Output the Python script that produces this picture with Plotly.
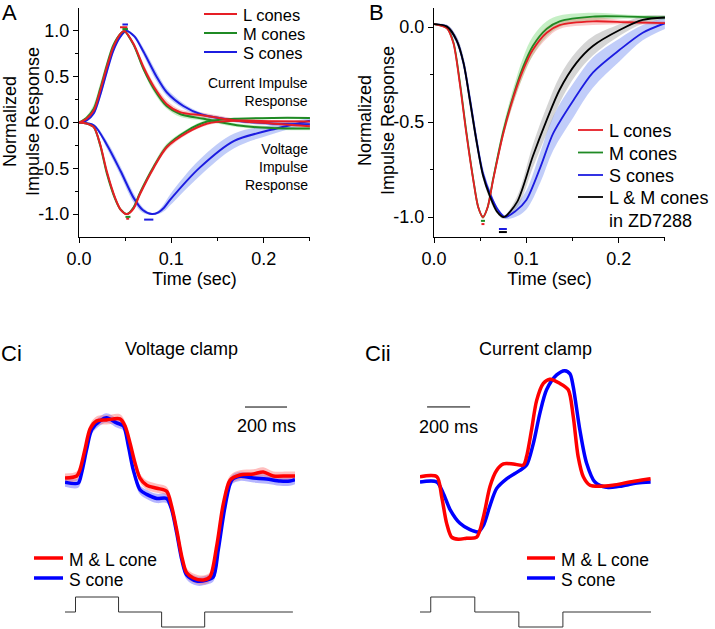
import plotly.graph_objects as go

W, H = 715, 629

# ---------------- Panel A: current / voltage impulse responses ----------------
a_cur_t = [0, 0.008, 0.016, 0.023, 0.030, 0.037, 0.045, 0.049, 0.059, 0.070, 0.081, 0.095, 0.110, 0.135, 0.171, 0.208, 0.250]
a_cur_L = [0, 0.04, 0.13, 0.35, 0.60, 0.82, 0.97, 1.0, 0.86, 0.60, 0.39, 0.20, 0.11, 0.077, 0.02, -0.01, -0.04]
a_cur_M = [0, 0.05, 0.15, 0.37, 0.62, 0.84, 0.97, 1.0, 0.85, 0.58, 0.37, 0.18, 0.09, 0.04, -0.03, -0.06, -0.065]
a_cur_L_sem = [0, 0.01, 0.02, 0.03, 0.03, 0.02, 0.01, 0.01, 0.02, 0.04, 0.04, 0.04, 0.03, 0.03, 0.02, 0.02, 0.02]
a_cur_M_sem = [0, 0.02, 0.05, 0.06, 0.05, 0.03, 0.01, 0.01, 0.02, 0.03, 0.04, 0.03, 0.03, 0.02, 0.02, 0.02, 0.02]

a_cur_S_t = [0, 0.008, 0.016, 0.023, 0.030, 0.037, 0.045, 0.051, 0.060, 0.070, 0.084, 0.095, 0.113, 0.132, 0.171, 0.208, 0.250]
a_cur_S = [0, 0.02, 0.10, 0.30, 0.55, 0.78, 0.94, 1.0, 0.94, 0.77, 0.50, 0.33, 0.18, 0.09, 0.02, -0.01, -0.02]
a_cur_S_sem = [0, 0.01, 0.02, 0.03, 0.03, 0.02, 0.01, 0.01, 0.02, 0.04, 0.05, 0.04, 0.03, 0.02, 0.02, 0.02, 0.02]

a_vol_t = [0, 0.008, 0.016, 0.023, 0.030, 0.039, 0.045, 0.052, 0.059, 0.066, 0.081, 0.095, 0.117, 0.139, 0.168, 0.210, 0.250]
a_vol_L = [0, -0.01, -0.05, -0.24, -0.53, -0.82, -0.95, -1.0, -0.94, -0.78, -0.49, -0.27, -0.11, -0.01, 0.02, 0.015, 0.01]
a_vol_M = [0, -0.01, -0.05, -0.25, -0.55, -0.83, -0.95, -1.0, -0.93, -0.77, -0.48, -0.26, -0.09, 0.01, 0.04, 0.05, 0.05]
a_vol_LM_sem = [0, 0.005, 0.01, 0.02, 0.02, 0.02, 0.01, 0.01, 0.02, 0.03, 0.03, 0.03, 0.02, 0.02, 0.01, 0.01, 0.01]

a_vol_S_t = [0, 0.016, 0.030, 0.045, 0.059, 0.069, 0.079, 0.086, 0.092, 0.099, 0.131, 0.168, 0.208, 0.250]
a_vol_S = [0, -0.03, -0.24, -0.53, -0.82, -0.955, -1.0, -0.98, -0.93, -0.84, -0.49, -0.20, -0.08, 0.02]
a_vol_S_sem = [0, 0.01, 0.04, 0.05, 0.05, 0.03, 0.01, 0.02, 0.04, 0.06, 0.09, 0.08, 0.05, 0.03]

# time-to-peak (mean, sem, level) markers
a_cur_peak = {"L": (0.0484, 0.004, 1.04), "M": (0.050, 0.003, 1.02), "S": (0.050, 0.003, 1.07)}
a_vol_peak = {"L": (0.0527, 0.0016, -1.05), "M": (0.053, 0.0027, -1.03), "S": (0.0755, 0.005, -1.06)}

# ---------------- Panel B: voltage impulse responses incl. ZD7288 ----------------
b_LM_t = [0, 0.014, 0.021, 0.028, 0.035, 0.0425, 0.048, 0.053, 0.058, 0.064, 0.075, 0.086, 0.0965, 0.107, 0.122, 0.136, 0.172, 0.21, 0.25]
b_L = [0.015, -0.007, -0.086, -0.30, -0.56, -0.805, -0.95, -1.0, -0.95, -0.805, -0.56, -0.37, -0.226, -0.12, -0.03, 0.01, 0.03, 0.025, 0.02]
b_M = [0.015, -0.005, -0.08, -0.29, -0.55, -0.80, -0.95, -1.0, -0.95, -0.80, -0.55, -0.36, -0.21, -0.10, -0.01, 0.03, 0.055, 0.055, 0.05]
b_L_sem = [0, 0.005, 0.01, 0.02, 0.02, 0.02, 0.01, 0.01, 0.01, 0.02, 0.02, 0.03, 0.03, 0.03, 0.03, 0.02, 0.02, 0.01, 0.01]
b_M_sem = [0, 0.005, 0.01, 0.02, 0.02, 0.02, 0.01, 0.01, 0.01, 0.02, 0.03, 0.04, 0.05, 0.05, 0.04, 0.03, 0.02, 0.01, 0.01]

b_S_t = [0, 0.014, 0.0245, 0.032, 0.039, 0.046, 0.053, 0.0605, 0.069, 0.077, 0.088, 0.100, 0.115, 0.129, 0.151, 0.172, 0.201, 0.226, 0.25]
b_S = [0.015, 0.002, -0.07, -0.19, -0.384, -0.595, -0.77, -0.875, -0.96, -1.0, -0.97, -0.91, -0.74, -0.56, -0.385, -0.24, -0.12, -0.03, 0.02]
b_S_sem = [0, 0.01, 0.02, 0.03, 0.04, 0.04, 0.03, 0.02, 0.01, 0.01, 0.03, 0.05, 0.08, 0.09, 0.09, 0.08, 0.06, 0.04, 0.03]

b_ZD_t = [0, 0.014, 0.0245, 0.032, 0.039, 0.046, 0.053, 0.0605, 0.068, 0.0755, 0.090, 0.107, 0.122, 0.136, 0.154, 0.172, 0.201, 0.226, 0.25]
b_ZD = [0.015, 0.002, -0.07, -0.19, -0.39, -0.60, -0.78, -0.89, -0.97, -1.0, -0.92, -0.68, -0.49, -0.33, -0.19, -0.10, -0.016, 0.037, 0.05]
b_ZD_sem = [0, 0.01, 0.02, 0.03, 0.04, 0.03, 0.02, 0.02, 0.01, 0.01, 0.03, 0.06, 0.07, 0.07, 0.06, 0.05, 0.03, 0.02, 0.01]

b_peak = {"L": (0.053, 0.0016, -1.037), "M": (0.053, 0.0022, -1.02), "S": (0.0746, 0.0043, -1.063), "ZD": (0.0746, 0.0043, -1.079)}

# ---------------- Panel Ci: voltage clamp (ms, normalised) ----------------
ci_ML_t = [0, 56, 71, 95, 119, 151, 198, 262, 286, 310, 333, 357, 389, 437, 484, 508, 532, 556, 579, 611, 659, 690, 722, 754, 786, 833, 897, 944, 992, 1056, 1095]
ci_ML = [0, 0.02, 0.08, 0.28, 0.48, 0.56, 0.57, 0.58, 0.51, 0.34, 0.15, 0.0, -0.07, -0.10, -0.13, -0.28, -0.51, -0.77, -0.93, -0.98, -1.0, -0.97, -0.67, -0.25, -0.02, 0.03, 0.04, 0.06, 0.02, 0.02, 0.02]
ci_S_t = [0, 63, 79, 103, 127, 167, 198, 246, 278, 302, 325, 357, 389, 437, 484, 508, 532, 556, 579, 627, 675, 706, 730, 762, 794, 833, 897, 960, 1024, 1071, 1095]
ci_S = [-0.04, -0.05, 0.05, 0.28, 0.475, 0.56, 0.59, 0.54, 0.51, 0.31, 0.08, -0.115, -0.16, -0.2, -0.2, -0.31, -0.54, -0.80, -0.95, -1.01, -1.0, -0.97, -0.70, -0.28, -0.02, 0.016, 0.0, -0.01, -0.03, -0.03, -0.016]
ci_noise = 0.045

# ---------------- Panel Cii: current clamp ----------------
cii_ML_t = [0, 78, 101, 124, 147, 178, 217, 264, 295, 326, 357, 388, 434, 481, 496, 519, 543, 574, 605, 651, 690, 713, 736, 760, 791, 837, 899, 977, 1073]
cii_ML = [0, 0, -0.19, -0.44, -0.57, -0.59, -0.58, -0.57, -0.38, -0.09, 0.06, 0.12, 0.12, 0.11, 0.19, 0.44, 0.72, 0.88, 0.92, 0.88, 0.82, 0.57, 0.19, 0, -0.08, -0.09, -0.08, -0.05, -0.02]
cii_S_t = [0, 78, 109, 140, 186, 233, 271, 295, 326, 357, 403, 465, 496, 527, 558, 589, 636, 674, 698, 713, 744, 775, 814, 868, 930, 1008, 1073]
cii_S = [-0.05, -0.05, -0.16, -0.31, -0.44, -0.50, -0.52, -0.46, -0.27, -0.11, -0.02, 0.06, 0.11, 0.31, 0.60, 0.82, 0.96, 1.0, 0.97, 0.85, 0.44, 0.13, -0.05, -0.10, -0.09, -0.06, -0.05]
cii_noise = 0.015

# stimulus steps (ms) and levels
stim_t = [0, 50, 255, 460, 665, 1085]
stim_level = [0, 1, 0, -1, 0, 0]
scalebar_ms = 200

RED, GREEN, BLUE, BLACK = "#e61e25", "#1f8a24", "#1c1ce0", "#000000"
RED_B, GREEN_B, BLUE_B, GRAY_B = "rgba(240,110,110,0.35)", "rgba(110,215,110,0.40)", "rgba(100,130,240,0.40)", "rgba(150,150,150,0.40)"
C_RED, C_BLUE = "#ff0000", "#0000ff"
FONT = "Arial, Liberation Sans, sans-serif"

# legend entries (label, colour)
legend_a = [("L cones", RED), ("M cones", GREEN), ("S cones", BLUE)]
legend_b = [("L cones", RED), ("M cones", GREEN), ("S cones", BLUE), ("L & M cones<br>in ZD7288", BLACK)]
legend_c = [("M & L cone", C_RED), ("S cone", C_BLUE)]


def px(x):
    return x / W


def py(y):
    return 1 - y / H


fig = go.Figure()


def band(t, v, sem, color, xa, ya):
    lo = [a - b for a, b in zip(v, sem)]
    hi = [a + b for a, b in zip(v, sem)]
    fig.add_trace(go.Scatter(x=t, y=lo, mode="lines", line=dict(width=0, shape="spline"),
                             xaxis=xa, yaxis=ya, showlegend=False, hoverinfo="skip"))
    fig.add_trace(go.Scatter(x=t, y=hi, mode="lines", line=dict(width=0, shape="spline"),
                             fill="tonexty", fillcolor=color,
                             xaxis=xa, yaxis=ya, showlegend=False, hoverinfo="skip"))


def curve(t, v, color, xa, ya, width=2, name=None):
    fig.add_trace(go.Scatter(x=t, y=v, mode="lines", line=dict(color=color, width=width, shape="spline", smoothing=0.8),
                             xaxis=xa, yaxis=ya, name=name, showlegend=False))


def peak(p, color, xa, ya):
    t, s, y = p
    fig.add_trace(go.Scatter(x=[t], y=[y], mode="markers", marker=dict(size=1, color=color),
                             error_x=dict(type="data", array=[s], width=0, thickness=2, color=color),
                             xaxis=xa, yaxis=ya, showlegend=False, hoverinfo="skip"))


# --- A ---
band(a_cur_t, a_cur_M, a_cur_M_sem, GREEN_B, "x", "y")
band(a_cur_t, a_cur_L, a_cur_L_sem, RED_B, "x", "y")
band(a_cur_S_t, a_cur_S, a_cur_S_sem, BLUE_B, "x", "y")
band(a_vol_t, a_vol_M, a_vol_LM_sem, GREEN_B, "x", "y")
band(a_vol_t, a_vol_L, a_vol_LM_sem, RED_B, "x", "y")
band(a_vol_S_t, a_vol_S, a_vol_S_sem, BLUE_B, "x", "y")
curve(a_cur_S_t, a_cur_S, BLUE, "x", "y", name="S cones")
curve(a_vol_S_t, a_vol_S, BLUE, "x", "y", name="S cones")
curve(a_cur_t, a_cur_M, GREEN, "x", "y", name="M cones")
curve(a_vol_t, a_vol_M, GREEN, "x", "y", name="M cones")
curve(a_cur_t, a_cur_L, RED, "x", "y", name="L cones")
curve(a_vol_t, a_vol_L, RED, "x", "y", name="L cones")
for k, c in (("L", RED), ("M", GREEN), ("S", BLUE)):
    peak(a_cur_peak[k], c, "x", "y")
    peak(a_vol_peak[k], c, "x", "y")

# --- B ---
band(b_LM_t, b_M, b_M_sem, GREEN_B, "x2", "y2")
band(b_LM_t, b_L, b_L_sem, RED_B, "x2", "y2")
band(b_S_t, b_S, b_S_sem, BLUE_B, "x2", "y2")
band(b_ZD_t, b_ZD, b_ZD_sem, GRAY_B, "x2", "y2")
curve(b_S_t, b_S, BLUE, "x2", "y2", width=1.8, name="S cones")
curve(b_LM_t, b_M, GREEN, "x2", "y2", width=1.8, name="M cones")
curve(b_LM_t, b_L, RED, "x2", "y2", width=1.8, name="L cones")
curve(b_ZD_t, b_ZD, BLACK, "x2", "y2", width=1.8, name="L & M cones in ZD7288")
for k, c in (("L", RED), ("M", GREEN), ("S", BLUE), ("ZD", BLACK)):
    peak(b_peak[k], c, "x2", "y2")

# --- Ci ---
band(ci_S_t, ci_S, [ci_noise] * len(ci_S), "rgba(90,90,255,0.45)", "x3", "y3")
band(ci_ML_t, ci_ML, [ci_noise] * len(ci_ML), "rgba(255,110,110,0.45)", "x3", "y3")
curve(ci_S_t, ci_S, C_BLUE, "x3", "y3", width=3.5, name="S cone")
curve(ci_ML_t, ci_ML, C_RED, "x3", "y3", width=3.5, name="M & L cone")
fig.add_trace(go.Scatter(x=stim_t, y=stim_level, mode="lines", line=dict(color="#333", width=1, shape="hv"),
                         xaxis="x3", yaxis="y4", showlegend=False))
fig.add_trace(go.Scatter(x=[857, 857 + scalebar_ms], y=[0.696, 0.696], mode="lines",
                         line=dict(color="black", width=1), xaxis="x3", yaxis="y3", showlegend=False))

# --- Cii ---
band(cii_S_t, cii_S, [cii_noise] * len(cii_S), "rgba(90,90,255,0.45)", "x5", "y5")
band(cii_ML_t, cii_ML, [cii_noise] * len(cii_ML), "rgba(255,110,110,0.45)", "x5", "y5")
curve(cii_S_t, cii_S, C_BLUE, "x5", "y5", width=3.5, name="S cone")
curve(cii_ML_t, cii_ML, C_RED, "x5", "y5", width=3.5, name="M & L cone")
fig.add_trace(go.Scatter(x=stim_t, y=stim_level, mode="lines", line=dict(color="#333", width=1, shape="hv"),
                         xaxis="x5", yaxis="y6", showlegend=False))
fig.add_trace(go.Scatter(x=[33, 33 + scalebar_ms], y=[0.658, 0.658], mode="lines",
                         line=dict(color="black", width=1), xaxis="x5", yaxis="y5", showlegend=False))

tickfont = dict(family=FONT, size=18, color="black")
common = dict(showline=True, linecolor="black", linewidth=1, ticks="outside", ticklen=5, tickwidth=1,
              tickcolor="black", showgrid=False, zeroline=False, tickfont=tickfont)
xtime = dict(range=[0, 0.2501], tickvals=[0, 0.1, 0.2], ticktext=["0.0", "0.1", "0.2"],
             minor=dict(tickvals=[0.05, 0.15, 0.25], ticks="outside", ticklen=3, tickcolor="black"),
             title=dict(text="Time (sec)", font=dict(family=FONT, size=18, color="black"), standoff=0), **common)
ydom = [py(237), py(8)]
hidden = dict(visible=False, showgrid=False, zeroline=False)

fig.update_layout(
    width=W, height=H, margin=dict(l=0, r=0, t=0, b=0, autoexpand=False), showlegend=False,
    paper_bgcolor="white", plot_bgcolor="white", font=dict(family=FONT, color="black"),
    xaxis=dict(domain=[px(79), px(310)], anchor="y", **xtime),
    yaxis=dict(domain=ydom, anchor="x", range=[-1.25, 1.25], tickvals=[-1, -0.5, 0, 0.5, 1],
               ticktext=["-1.0", "-0.5", "0.0", "0.5", "1.0"],
               minor=dict(tickvals=[-0.75, -0.25, 0.25, 0.75], ticks="outside", ticklen=3, tickcolor="black"),
               **common),
    xaxis2=dict(domain=[px(434), px(665)], anchor="y2", **xtime),
    yaxis2=dict(domain=ydom, anchor="x2", range=[-1.105, 0.1], tickvals=[-1, -0.5, 0],
                ticktext=["-1.0", "-0.5", "0.0"],
                minor=dict(tickvals=[-0.75, -0.25], ticks="outside", ticklen=3, tickcolor="black"),
                **common),
    xaxis3=dict(domain=[px(65), px(295)], anchor="y3", range=[0, 1095], **hidden),
    yaxis3=dict(domain=[py(595), py(395)], anchor="x3", range=[-1.147, 0.814], **hidden),
    yaxis4=dict(domain=[0, py(590)], anchor="x3", range=[-1.133, 1.467], **hidden),
    xaxis5=dict(domain=[px(420), px(651)], anchor="y5", range=[0, 1075], **hidden),
    yaxis5=dict(domain=[py(600), py(355)], anchor="x5", range=[-1.163, 1.148], **hidden),
    yaxis6=dict(domain=[0, py(590)], anchor="x5", range=[-1.133, 1.467], **hidden),
)


def label(text, x, y, size=18, xanchor="center", align="center", angle=0):
    fig.add_annotation(text=text, x=px(x), y=py(y), xref="paper", yref="paper", showarrow=False,
                       xanchor=xanchor, yanchor="middle", align=align, textangle=angle,
                       font=dict(family=FONT, size=size, color="black"))


def key(entries, x0, x1, ys, width, size=18):
    # hand-drawn key: short line sample followed by its label
    for (text, color), y in zip(entries, ys):
        fig.add_shape(type="line", xref="paper", yref="paper", x0=px(x0), x1=px(x1), y0=py(y), y1=py(y),
                      line=dict(color=color, width=width))
        fig.add_annotation(text=text, x=px(x1 + 4), y=py(y - size * 0.6), xref="paper", yref="paper",
                           showarrow=False, xanchor="left", yanchor="top", align="left",
                           font=dict(family=FONT, size=size, color="black"))


key(legend_a, 204, 237, [14, 33, 52], 2, size=16.5)
key(legend_b, 578, 603, [130, 152.5, 175, 197], 1.8)
key(legend_c, 34, 63, [558, 578], 3.5, size=17.5)
key(legend_c, 527, 555, [558, 578], 3.5, size=17.5)

label("A", 9, 12, size=22)
label("B", 376, 12, size=22)
label("Ci", 11, 353, size=22)
label("Cii", 378, 353, size=22)
label("Normalized<br>Impulse Response", 22, 122, angle=-90)
label("Normalized<br>Impulse Response", 377, 120, angle=-90)
label("Current Impulse<br>Response", 310, 92, size=14, xanchor="right", align="right")
label("Voltage<br>Impulse<br>Response", 310, 167, size=14, xanchor="right", align="right")
label("Voltage clamp", 182, 349)
label("Current clamp", 535, 349)
label("200 ms", 266, 426)
label("200 ms", 448, 427)

fig.write_html("out.html", config={"displayModeBar": False},
               post_script="document.body.style.margin='0';")
